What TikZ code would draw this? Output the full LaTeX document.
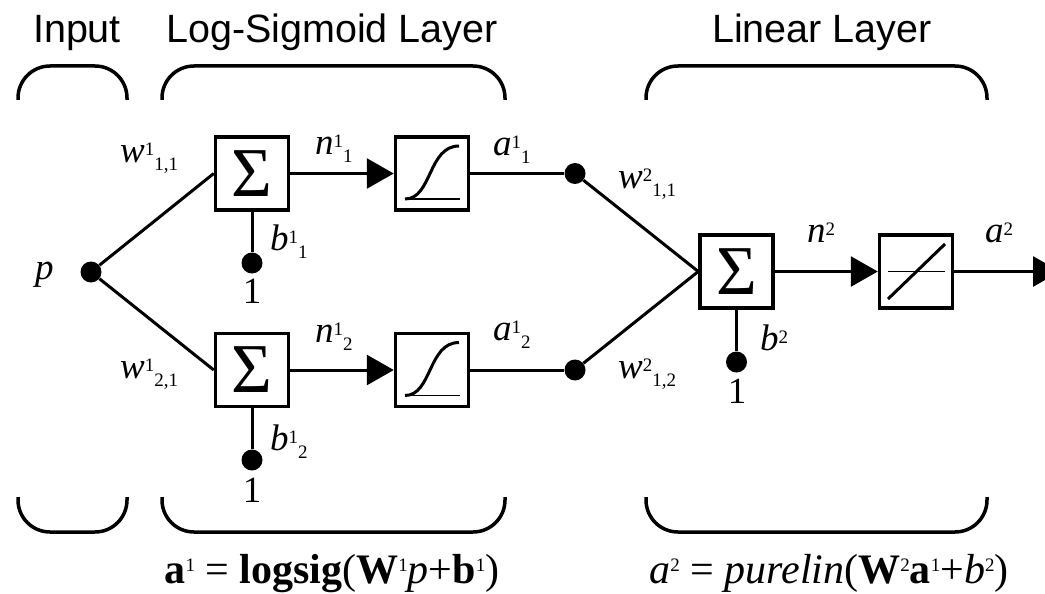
\documentclass[tikz,border=0pt]{standalone}
\usepackage{fontspec}
\setmainfont{Liberation Serif}
\newfontfamily\hsans{Liberation Sans}
\usetikzlibrary{arrows.meta}
\newcommand\lsup[3]{#1\raisebox{7pt}{\fontsize{19}{19}\selectfont #2}\raisebox{-8pt}{\fontsize{19}{19}\selectfont #3}}
\newcommand\fsup[1]{\raisebox{12pt}{\fontsize{19}{19}\selectfont #1}}
\tikzset{
  x=1pt, y=-1pt,
  blk/.style={draw, line width=3.5pt, minimum size=73pt, inner sep=0pt},
  sumb/.style={blk, font=\fontsize{70}{70}\selectfont},
  dot/.style={circle, fill, inner sep=0pt, minimum size=21pt},
  con/.style={line width=3pt},
  arr/.style={line width=3pt, -{Triangle[length=27pt,width=30pt]}},
  brace/.style={line width=3.5pt, rounded corners=32pt},
  head/.style={font=\hsans\fontsize{39.5}{40}\selectfont, anchor=base, inner sep=0pt},
  lab/.style={font=\fontsize{37}{38}\selectfont, anchor=base west, inner sep=0pt},
  one/.style={font=\fontsize{37}{38}\selectfont, anchor=base, inner sep=0pt},
  frm/.style={font=\fontsize{42}{44}\selectfont, anchor=base, inner sep=0pt},
  sigm/.pic={
    \draw[line width=3pt] (-27,25.5) .. controls (0,25.5) and (-4,-27.5) .. (27,-27.5);
    \draw[line width=1.8pt] (-27,25.5) -- (28,25.5);
  },
  linp/.pic={
    \draw[line width=1.8pt] (-28,0) -- (29,0);
    \draw[line width=3pt] (-28,27.5) -- (29,-27.5);
  }
}
\begin{document}
\begin{tikzpicture}
\useasboundingbox (0,0) rectangle (1045,594);
% headers
\node[head] (hin) at (77,43) {Input};
\node[head] (hls) at (332,43) {Log-Sigmoid Layer};
\node[head] (hll) at (822,43) {Linear Layer};
% braces
\draw[brace] (18,100) -- (18,66) -- (127,66) -- (127,100);
\draw[brace] (162,100) -- (162,66) -- (505,66) -- (505,100);
\draw[brace] (646,100) -- (646,66) -- (987,66) -- (987,100);
\draw[brace] (18,497) -- (18,532) -- (127,532) -- (127,497);
\draw[brace] (162,497) -- (162,532) -- (505,532) -- (505,497);
\draw[brace] (646,497) -- (646,532) -- (987,532) -- (987,497);
% blocks
\node[sumb] (s1) at (252,173.5) {Σ};
\node[sumb] (s2) at (252,370) {Σ};
\node[sumb] (s3) at (736.5,271.5) {Σ};
\node[blk] (f1) at (432,173.5) {};
\node[blk] (f2) at (432,370) {};
\node[blk] (f3) at (916,271.5) {};
\pic at (f1) {sigm};
\pic at (f2) {sigm};
\pic at (f3) {linp};
% dots
\node[dot] (p) at (91,272) {};
\node[dot] (d1) at (575,173.5) {};
\node[dot] (d2) at (575,370) {};
\node[dot] (b1) at (252,263) {};
\node[dot] (b2) at (252,460) {};
\node[dot] (b3) at (736.5,362) {};
\coordinate (out) at (1060,271.5);
% connectors
\draw[con] (p) -- (s1.west);
\draw[con] (p) -- (s2.west);
\draw[arr] (s1) -- (f1);
\draw[arr] (s2) -- (f2);
\draw[con] (f1) -- (d1);
\draw[con] (f2) -- (d2);
\draw[con] (d1) -- (s3.west);
\draw[con] (d2) -- (s3.west);
\draw[arr] (s3) -- (f3);
\draw[arr] (f3) -- (out);
\draw[con] (s1) -- (b1);
\draw[con] (s2) -- (b2);
\draw[con] (s3) -- (b3);
% labels
\node[lab] (lp) at (35,279) {\textit{p}};
\node[lab] (lw11) at (120,162) {\lsup{\textit{w}}{1}{1,1}};
\node[lab] (lw21) at (120,378) {\lsup{\textit{w}}{1}{2,1}};
\node[lab] (ln11) at (315,154) {\lsup{\textit{n}}{1}{1}};
\node[lab] (ln12) at (315,342) {\lsup{\textit{n}}{1}{2}};
\node[lab] (la11) at (493,155) {\lsup{\textit{a}}{1}{1}};
\node[lab] (la12) at (493,340) {\lsup{\textit{a}}{1}{2}};
\node[lab] (lb11) at (270,250) {\lsup{\textit{b}}{1}{1}};
\node[lab] (lb12) at (270,450) {\lsup{\textit{b}}{1}{2}};
\node[one] (o1) at (252,303) {1};
\node[one] (o2) at (252,502) {1};
\node[one] (o3) at (737,403) {1};
\node[lab] (lw211) at (618,188) {\lsup{\textit{w}}{2}{1,1}};
\node[lab] (lw212) at (618,378) {\lsup{\textit{w}}{2}{1,2}};
\node[lab] (ln2) at (807,242) {\lsup{\textit{n}}{2}{}};
\node[lab] (la2) at (985,242) {\lsup{\textit{a}}{2}{}};
\node[lab] (lb2) at (760,350) {\lsup{\textit{b}}{2}{}};
% formulas
\node[frm] (fm1) at (332,583) {\textbf{a}\fsup{1} = \textbf{logsig}(\textbf{W}\fsup{1}\textit{p}+\textbf{b}\fsup{1})};
\node[frm] (fm2) at (829,583) {\textit{a}\fsup{2} = \textit{purelin}(\textbf{W}\fsup{2}\textbf{a}\fsup{1}+\textit{b}\fsup{2})};
\end{tikzpicture}
\end{document}
